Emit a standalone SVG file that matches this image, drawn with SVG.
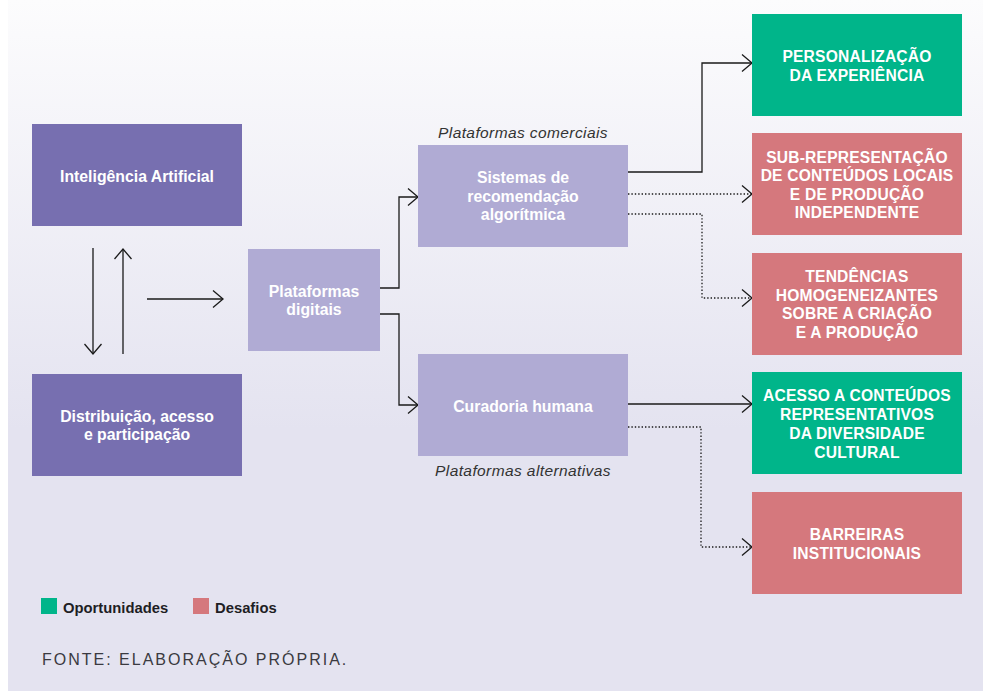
<svg xmlns="http://www.w3.org/2000/svg" width="983" height="691" viewBox="0 0 983 691">
<defs>
<linearGradient id="bg" gradientUnits="userSpaceOnUse" x1="0" y1="0" x2="0" y2="430">
<stop offset="0" stop-color="#fcfcfd"/>
<stop offset="1" stop-color="#e4e3f0"/>
</linearGradient>
<marker id="arr" markerUnits="userSpaceOnUse" markerWidth="14" markerHeight="20" refX="12" refY="10" orient="auto" overflow="visible">
<path d="M2,1.5 L12,10 L2,18.5" fill="none" stroke="#1a1a1a" stroke-width="1.3"/>
</marker>
<style>
.dk{fill:#776fb0}
.lt{fill:#b0abd4}
.gr{fill:#00b58a}
.pk{fill:#d5787d}
.bt{font-family:"Liberation Sans",Arial,sans-serif;font-weight:bold;font-size:15.8px;fill:#ffffff;text-anchor:middle}
.cap{font-family:"Liberation Sans",Arial,sans-serif;font-weight:bold;font-size:15.6px;letter-spacing:0.2px;fill:#ffffff;text-anchor:middle}
.it{font-family:"Liberation Sans",Arial,sans-serif;font-style:italic;font-size:15.5px;letter-spacing:0.4px;fill:#333333;text-anchor:middle}
.leg{font-family:"Liberation Sans",Arial,sans-serif;font-weight:bold;font-size:14.8px;fill:#1e1e24}
.src{font-family:"Liberation Sans",Arial,sans-serif;font-size:16px;letter-spacing:2px;fill:#3a3a40}
.ln{fill:none;stroke:#1a1a1a;stroke-width:1.3}
.dt{fill:none;stroke:#1a1a1a;stroke-width:1.3;stroke-dasharray:1.4 2}
</style>
</defs>
<rect x="8" y="0" width="975" height="691" fill="url(#bg)"/>

<g id="connectors">
<path class="ln" d="M93,248 V354" marker-end="url(#arr)"/>
<path class="ln" d="M123,354 V249" marker-end="url(#arr)"/>
<path class="ln" d="M147,299 H223" marker-end="url(#arr)"/>
<path class="ln" d="M380,288 H399 V197 H418" marker-end="url(#arr)"/>
<path class="ln" d="M380,314 H399 V405 H418" marker-end="url(#arr)"/>
<path class="ln" d="M628,172 H702 V63 H752" marker-end="url(#arr)"/>
<path class="dt" d="M628,194 H752" marker-end="url(#arr)"/>
<path class="dt" d="M628,214 H702 V298 H752" marker-end="url(#arr)"/>
<path class="ln" d="M628,404 H752" marker-end="url(#arr)"/>
<path class="dt" d="M628,427 H701 V547 H752" marker-end="url(#arr)"/>
</g>

<g id="ia">
<rect class="dk" x="32" y="124" width="210" height="102"/>
<text class="bt" x="137" y="182">Inteligência Artificial</text>
</g>
<g id="distribuicao">
<rect class="dk" x="32" y="374" width="210" height="102"/>
<text class="bt" x="137" y="422">Distribuição, acesso</text>
<text class="bt" x="137" y="440">e participação</text>
</g>
<g id="plataformas">
<rect class="lt" x="248" y="249" width="132" height="102"/>
<text class="bt" x="314" y="297">Plataformas</text>
<text class="bt" x="314" y="315">digitais</text>
</g>
<g id="sistemas">
<text class="it" x="523" y="137.5">Plataformas comerciais</text>
<rect class="lt" x="418" y="145" width="210" height="102"/>
<text class="bt" x="523" y="183">Sistemas de</text>
<text class="bt" x="523" y="201.5">recomendação</text>
<text class="bt" x="523" y="220">algorítmica</text>
</g>
<g id="curadoria">
<rect class="lt" x="418" y="354" width="210" height="102"/>
<text class="bt" x="523" y="411.5">Curadoria humana</text>
<text class="it" x="523" y="476">Plataformas alternativas</text>
</g>
<g id="personalizacao">
<rect class="gr" x="752" y="14" width="210" height="102"/>
<text class="cap" x="857" y="62">PERSONALIZAÇÃO</text>
<text class="cap" x="857" y="81">DA EXPERIÊNCIA</text>
</g>
<g id="subrepresentacao">
<rect class="pk" x="752" y="133" width="210" height="102"/>
<text class="cap" x="857" y="163">SUB-REPRESENTAÇÃO</text>
<text class="cap" x="857" y="181">DE CONTEÚDOS LOCAIS</text>
<text class="cap" x="857" y="199.5">E DE PRODUÇÃO</text>
<text class="cap" x="857" y="218">INDEPENDENTE</text>
</g>
<g id="tendencias">
<rect class="pk" x="752" y="253" width="210" height="102"/>
<text class="cap" x="857" y="282">TENDÊNCIAS</text>
<text class="cap" x="857" y="300.5">HOMOGENEIZANTES</text>
<text class="cap" x="857" y="319">SOBRE A CRIAÇÃO</text>
<text class="cap" x="857" y="337.5">E A PRODUÇÃO</text>
</g>
<g id="acesso">
<rect class="gr" x="752" y="372" width="210" height="102"/>
<text class="cap" x="857" y="401">ACESSO A CONTEÚDOS</text>
<text class="cap" x="857" y="420">REPRESENTATIVOS</text>
<text class="cap" x="857" y="439">DA DIVERSIDADE</text>
<text class="cap" x="857" y="457.5">CULTURAL</text>
</g>
<g id="barreiras">
<rect class="pk" x="752" y="492" width="210" height="102"/>
<text class="cap" x="857" y="540">BARREIRAS</text>
<text class="cap" x="857" y="559">INSTITUCIONAIS</text>
</g>

<g id="legenda">
<rect class="gr" x="41" y="598" width="16" height="16"/>
<text class="leg" x="63" y="612.5">Oportunidades</text>
<rect class="pk" x="193" y="598" width="16" height="16"/>
<text class="leg" x="215" y="612.5">Desafios</text>
</g>
<text class="src" x="42" y="665">FONTE: ELABORAÇÃO PRÓPRIA.</text>
</svg>
